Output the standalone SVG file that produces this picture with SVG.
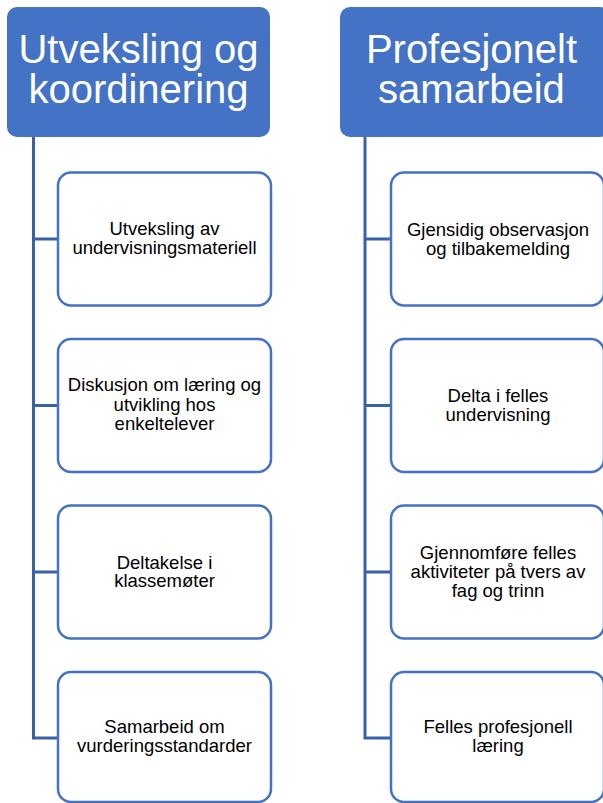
<svg xmlns="http://www.w3.org/2000/svg" width="603" height="803" viewBox="0 0 603 803">
<style>
.hdr{fill:#4472C4;}
.hdrt{font-family:"Liberation Sans",Arial,sans-serif;font-size:40px;fill:#fff;text-anchor:middle;}
.box{fill:#fff;stroke:#4472C4;stroke-width:2.5;}
.bt{font-family:"Liberation Sans",Arial,sans-serif;font-size:18.5px;fill:#000;text-anchor:middle;}
.con{fill:none;stroke:#3A60A6;stroke-width:3;}
</style>
<rect width="603" height="803" fill="#fff"/>
<g id="connectors">
<path class="con" d="M33.5,137 V738 H58 M33.5,239 H58 M33.5,405.5 H58 M33.5,572 H58"/>
<path class="con" d="M365,137 V738 H391 M365,239 H391 M365,405.5 H391 M365,572 H391"/>
</g>
<g id="h1">
<rect class="hdr" x="7" y="7" width="263" height="130" rx="10"/>
<text class="hdrt" x="138.5" y="63">Utveksling og</text>
<text class="hdrt" x="138.5" y="103">koordinering</text>
</g>
<g id="h2">
<rect class="hdr" x="340" y="7" width="270" height="130" rx="10"/>
<text class="hdrt" x="471.5" y="63">Profesjonelt</text>
<text class="hdrt" x="471.5" y="103">samarbeid</text>
</g>
<g id="l1">
<rect class="box" x="58" y="172.5" width="213" height="133" rx="13"/>
<text class="bt" x="164.5" y="235">Utveksling av</text>
<text class="bt" x="164.5" y="253.5">undervisningsmateriell</text>
</g>
<g id="l2">
<rect class="box" x="58" y="339" width="213" height="133" rx="13"/>
<text class="bt" x="164.5" y="391">Diskusjon om læring og</text>
<text class="bt" x="164.5" y="410.5">utvikling hos</text>
<text class="bt" x="164.5" y="430">enkeltelever</text>
</g>
<g id="l3">
<rect class="box" x="58" y="505.5" width="213" height="133" rx="13"/>
<text class="bt" x="164.5" y="568.5">Deltakelse i</text>
<text class="bt" x="164.5" y="587">klassemøter</text>
</g>
<g id="l4">
<rect class="box" x="58" y="672" width="213" height="130" rx="13"/>
<text class="bt" x="164.5" y="733">Samarbeid om</text>
<text class="bt" x="164.5" y="751.5">vurderingsstandarder</text>
</g>
<g id="r1">
<rect class="box" x="391" y="172.5" width="213" height="133" rx="13"/>
<text class="bt" x="498" y="236">Gjensidig observasjon</text>
<text class="bt" x="498" y="254.5">og tilbakemelding</text>
</g>
<g id="r2">
<rect class="box" x="391" y="339" width="213" height="133" rx="13"/>
<text class="bt" x="498" y="402">Delta i felles</text>
<text class="bt" x="498" y="420.5">undervisning</text>
</g>
<g id="r3">
<rect class="box" x="391" y="505.5" width="213" height="133" rx="13"/>
<text class="bt" x="498" y="558.5">Gjennomføre felles</text>
<text class="bt" x="498" y="578">aktiviteter på tvers av</text>
<text class="bt" x="498" y="597">fag og trinn</text>
</g>
<g id="r4">
<rect class="box" x="391" y="672" width="213" height="130" rx="13"/>
<text class="bt" x="498" y="733">Felles profesjonell</text>
<text class="bt" x="498" y="751.5">læring</text>
</g>
</svg>
